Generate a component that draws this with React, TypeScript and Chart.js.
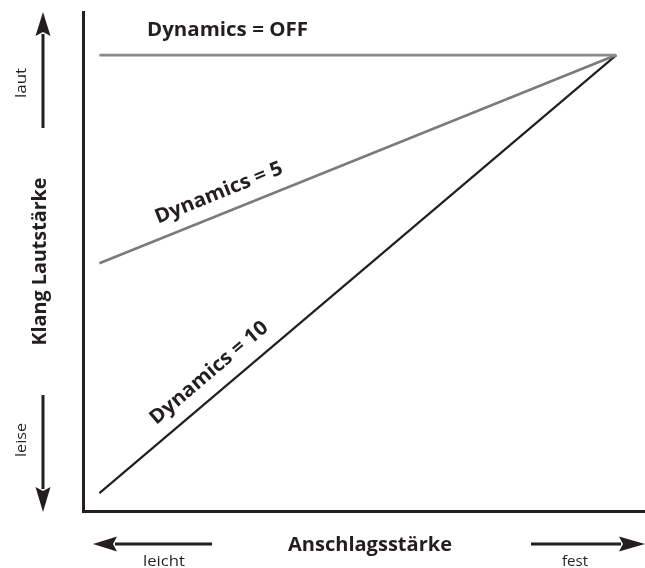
import React, { useEffect, useRef } from "react";
import { Chart, registerables } from "chart.js";

Chart.register(...registerables);

// ---- data ----
const velocity = [1, 127];
const dynOff = [127, 127];
const dyn5 = [69, 127];
const dyn10 = [5, 127];
const seriesLabels = ["Dynamics = OFF", "Dynamics = 5", "Dynamics = 10"];
const xTitle = "Anschlagsstärke";
const yTitle = "Klang Lautstärke";
const yHighLabel = "laut";
const yLowLabel = "leise";
const xLowLabel = "leicht";
const xHighLabel = "fest";

// ---- styles ----
const INK = "#231f20";
const GRAY_OFF = "#8a8a8a";
const GRAY_5 = "#7b7b7b";
const FONT = '"Open Sans", "DejaVu Sans", sans-serif';

function fitText(
  ctx: CanvasRenderingContext2D,
  text: string,
  x: number,
  y: number,
  rot: number,
  size: number,
  weight: string,
  targetW: number,
  align: CanvasTextAlign = "center",
  baseline: CanvasTextBaseline = "middle"
) {
  ctx.save();
  ctx.translate(x, y);
  ctx.rotate(rot);
  ctx.font = `${weight} ${size}px ${FONT}`;
  ctx.textAlign = align;
  ctx.textBaseline = baseline;
  ctx.fillStyle = INK;
  const w = ctx.measureText(text).width;
  ctx.scale(targetW / w, 1);
  ctx.fillText(text, 0, 0);
  ctx.restore();
}

function arrow(
  ctx: CanvasRenderingContext2D,
  x1: number,
  y1: number,
  x2: number,
  y2: number,
  headLen: number,
  headHalf: number,
  lw: number
) {
  const dx = x2 - x1;
  const dy = y2 - y1;
  const len = Math.hypot(dx, dy);
  const ux = dx / len;
  const uy = dy / len;
  const bx = x2 - ux * headLen;
  const by = y2 - uy * headLen;
  ctx.save();
  ctx.strokeStyle = INK;
  ctx.fillStyle = INK;
  ctx.lineWidth = lw;
  ctx.beginPath();
  ctx.moveTo(x1, y1);
  ctx.lineTo(bx + ux * 2, by + uy * 2);
  ctx.stroke();
  ctx.beginPath();
  ctx.moveTo(x2, y2);
  ctx.lineTo(bx - uy * headHalf, by + ux * headHalf);
  ctx.lineTo(bx + ux * 4, by + uy * 4);
  ctx.lineTo(bx + uy * headHalf, by - ux * headHalf);
  ctx.closePath();
  ctx.fill();
  ctx.restore();
}

const annotations = {
  id: "annotations",
  afterDraw(chart: any) {
    const ctx: CanvasRenderingContext2D = chart.ctx;
    const ca = chart.chartArea;
    const xs = chart.scales.x;
    const ys = chart.scales.y;

    // Axis arrows
    arrow(ctx, ca.left - 40, ca.top + 116, ca.left - 40, ca.top, 24, 7.5, 3);
    arrow(ctx, ca.left - 40, ca.bottom - 116, ca.left - 40, ca.bottom + 1, 25, 7.5, 3);
    arrow(ctx, ca.left + 129, ca.bottom + 33, ca.left + 10, ca.bottom + 33, 24, 7.5, 3);
    arrow(ctx, ca.right - 114, ca.bottom + 33, ca.right, ca.bottom + 33, 26, 7.5, 3);

    // Axis titles
    fitText(ctx, yTitle, ca.left - 43, (ca.top + ca.bottom) / 2, -Math.PI / 2, 20, "bold", 168);
    fitText(ctx, xTitle, ca.left + 287, ca.bottom + 34, 0, 20, "bold", 164);

    // Small direction labels
    fitText(ctx, yHighLabel, ca.left - 61, ca.top + 71, -Math.PI / 2, 14, "normal", 30);
    fitText(ctx, yLowLabel, ca.left - 61, ca.bottom - 71, -Math.PI / 2, 14, "normal", 34);
    fitText(ctx, xLowLabel, ca.left + 81, ca.bottom + 55, 0, 14, "normal", 42, "center", "alphabetic");
    fitText(ctx, xHighLabel, ca.right - 70, ca.bottom + 55, 0, 14, "normal", 26, "center", "alphabetic");

    // Series labels
    const offY = ys.getPixelForValue(dynOff[0]);
    fitText(ctx, seriesLabels[0], ca.left + 64, offY - 25, 0, 20, "bold", 161, "left");

    const along = (vals: number[], xv: number, label: string, w: number, d: number) => {
      const p0x = xs.getPixelForValue(velocity[0]);
      const p0y = ys.getPixelForValue(vals[0]);
      const p1x = xs.getPixelForValue(velocity[1]);
      const p1y = ys.getPixelForValue(vals[1]);
      const ang = Math.atan2(p1y - p0y, p1x - p0x);
      const t = (xv - velocity[0]) / (velocity[1] - velocity[0]);
      const v = vals[0] + t * (vals[1] - vals[0]);
      const px = xs.getPixelForValue(xv);
      const py = ys.getPixelForValue(v);
      const nx = Math.sin(ang);
      const ny = -Math.cos(ang);
      fitText(ctx, label, px + nx * d, py + ny * d, ang, 20, "bold", w);
    };
    along(dyn5, 32, seriesLabels[1], 136, 20.5);
    along(dyn10, 31, seriesLabels[2], 148, 20.7);
  },
};

export default function App() {
  const ref = useRef<HTMLCanvasElement | null>(null);
  useEffect(() => {
    if (!ref.current) return;
    const chart = new Chart(ref.current, {
      type: "line",
      data: {
        labels: velocity,
        datasets: [
          {
            label: seriesLabels[0],
            data: velocity.map((v, i) => ({ x: v, y: dynOff[i] })),
            borderColor: GRAY_OFF,
            borderWidth: 2.6,
            pointRadius: 0,
            fill: false,
          },
          {
            label: seriesLabels[1],
            data: velocity.map((v, i) => ({ x: v, y: dyn5[i] })),
            borderColor: GRAY_5,
            borderWidth: 2.6,
            pointRadius: 0,
            fill: false,
          },
          {
            label: seriesLabels[2],
            data: velocity.map((v, i) => ({ x: v, y: dyn10[i] })),
            borderColor: INK,
            borderWidth: 2.2,
            pointRadius: 0,
            fill: false,
          },
        ],
      },
      options: {
        animation: false,
        responsive: true,
        maintainAspectRatio: false,
        layout: { padding: { left: 83, right: 0, top: 12, bottom: 57 } },
        plugins: { legend: { display: false }, tooltip: { enabled: false } },
        scales: {
          x: {
            type: "linear",
            min: -3,
            max: 134,
            ticks: { display: false },
            grid: { display: false, drawTicks: false },
            border: { display: true, color: INK, width: 3 },
            afterFit: (s: any) => {
              s.height = 0;
            },
          },
          y: {
            type: "linear",
            min: 0,
            max: 139,
            ticks: { display: false },
            grid: { display: false, drawTicks: false },
            border: { display: true, color: INK, width: 3 },
            afterFit: (s: any) => {
              s.width = 0;
            },
          },
        },
      },
      plugins: [annotations],
    });
    return () => chart.destroy();
  }, []);
  return (
    <div style={{ position: "absolute", left: 0, top: 0, width: 645, height: 568, background: "#fff" }}>
      <canvas ref={ref} />
    </div>
  );
}
